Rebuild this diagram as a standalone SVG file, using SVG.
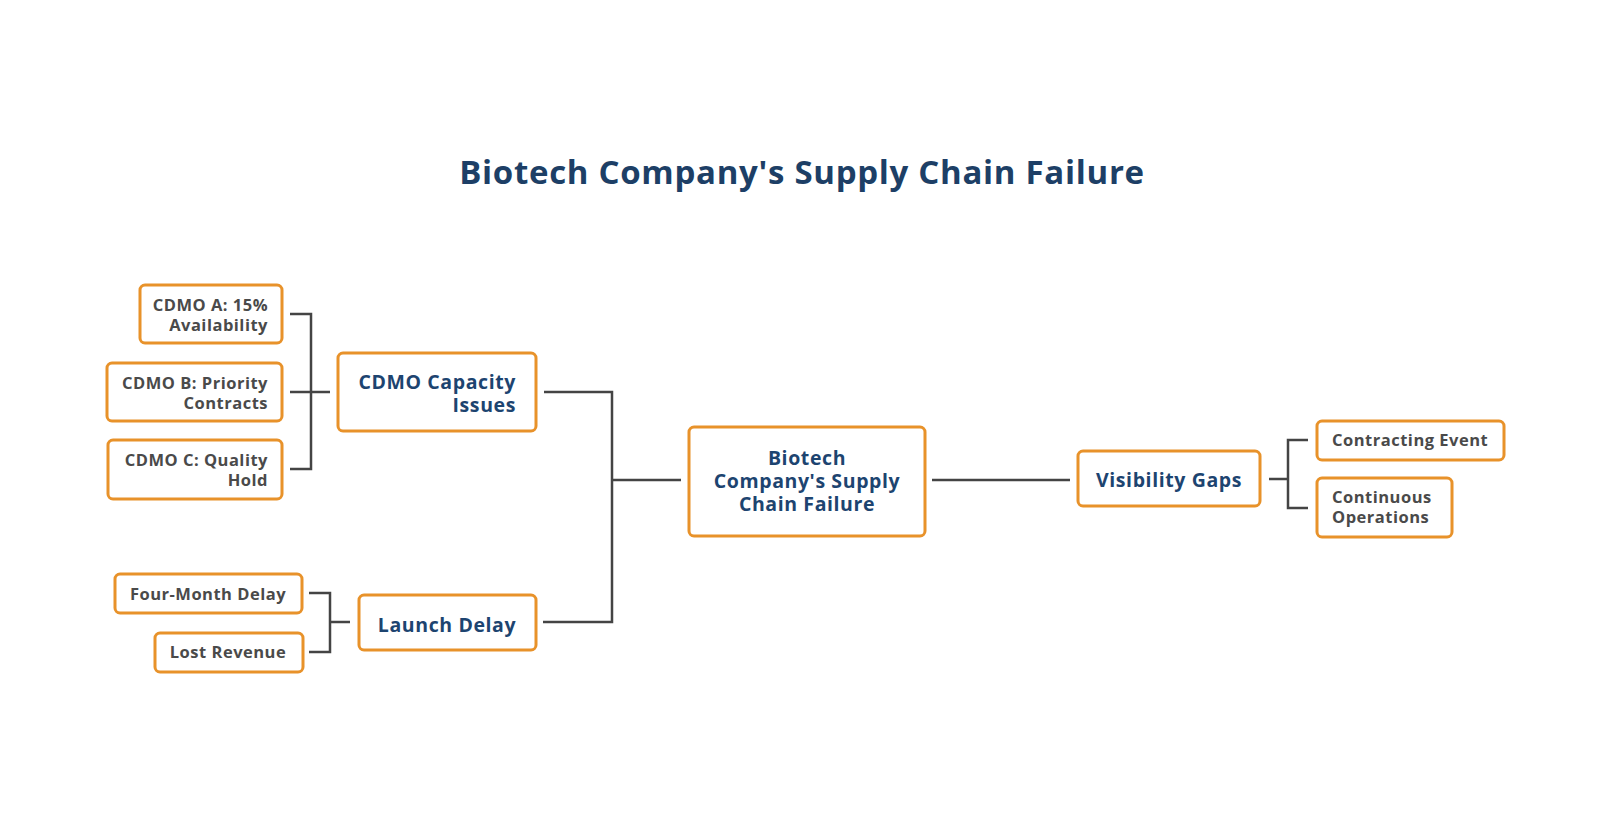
<svg xmlns="http://www.w3.org/2000/svg" width="1600" height="840" viewBox="0 0 1600 840">
<style>
.box{fill:#fff;stroke:#E8922A;stroke-width:3}
.leaf{font-family:"Open Sans","Liberation Sans",sans-serif;font-weight:700;font-size:16.5px;letter-spacing:0.5px;fill:#4a4a4a}
.main{font-family:"Open Sans","Liberation Sans",sans-serif;font-weight:700;font-size:19.5px;letter-spacing:0.6px;fill:#1d4470}
.title{font-family:"Open Sans","Liberation Sans",sans-serif;font-weight:700;font-size:33px;letter-spacing:0.7px;fill:#1d3f66}
.conn{fill:none;stroke:#444;stroke-width:2.5}
</style>
<rect width="1600" height="840" fill="#fff"/>
<text class="title" x="802" y="184" text-anchor="middle">Biotech Company's Supply Chain Failure</text>
<g id="connectors">
<path class="conn" d="M290,314 H311 V469 H290 M290,392 H330"/>
<path class="conn" d="M309,593 H330 V652 H309 M330,622 H350"/>
<path class="conn" d="M544,392 H612 V622 H543 M612,480 H681"/>
<path class="conn" d="M932,480 H1070"/>
<path class="conn" d="M1269,479 H1288 M1308,440 H1288 V508 H1308"/>
</g>
<g id="cdmo-a"><rect class="box" x="140" y="285" width="142" height="58" rx="5"/><text class="leaf" text-anchor="end"><tspan x="268" y="311">CDMO A: 15%</tspan><tspan x="268" y="331">Availability</tspan></text></g>
<g id="cdmo-b"><rect class="box" x="107" y="363" width="175" height="58" rx="5"/><text class="leaf" text-anchor="end"><tspan x="268" y="389">CDMO B: Priority</tspan><tspan x="268" y="409">Contracts</tspan></text></g>
<g id="cdmo-c"><rect class="box" x="108" y="440" width="174" height="59" rx="5"/><text class="leaf" text-anchor="end"><tspan x="268" y="466">CDMO C: Quality</tspan><tspan x="268" y="486">Hold</tspan></text></g>
<g id="cdmo-capacity"><rect class="box" x="338" y="353" width="198" height="78" rx="5"/><text class="main" text-anchor="end"><tspan x="516" y="389">CDMO Capacity</tspan><tspan x="516" y="412">Issues</tspan></text></g>
<g id="four-month"><rect class="box" x="115" y="574" width="187" height="39" rx="5"/><text class="leaf" x="208" y="600" text-anchor="middle">Four-Month Delay</text></g>
<g id="lost-revenue"><rect class="box" x="155" y="633" width="148" height="39" rx="5"/><text class="leaf" x="228" y="658" text-anchor="middle">Lost Revenue</text></g>
<g id="launch-delay"><rect class="box" x="359" y="595" width="177" height="55" rx="5"/><text class="main" x="447" y="632" text-anchor="middle">Launch Delay</text></g>
<g id="center"><rect class="box" x="689" y="427" width="236" height="109" rx="5"/><text class="main" text-anchor="middle"><tspan x="807" y="465">Biotech</tspan><tspan x="807" y="488">Company's Supply</tspan><tspan x="807" y="511">Chain Failure</tspan></text></g>
<g id="visibility"><rect class="box" x="1078" y="451" width="182" height="55" rx="5"/><text class="main" x="1169" y="487" text-anchor="middle">Visibility Gaps</text></g>
<g id="contracting"><rect class="box" x="1317" y="421" width="187" height="39" rx="5"/><text class="leaf" x="1332" y="446">Contracting Event</text></g>
<g id="continuous"><rect class="box" x="1317" y="478" width="135" height="59" rx="5"/><text class="leaf"><tspan x="1332" y="503">Continuous</tspan><tspan x="1332" y="523">Operations</tspan></text></g>
</svg>
